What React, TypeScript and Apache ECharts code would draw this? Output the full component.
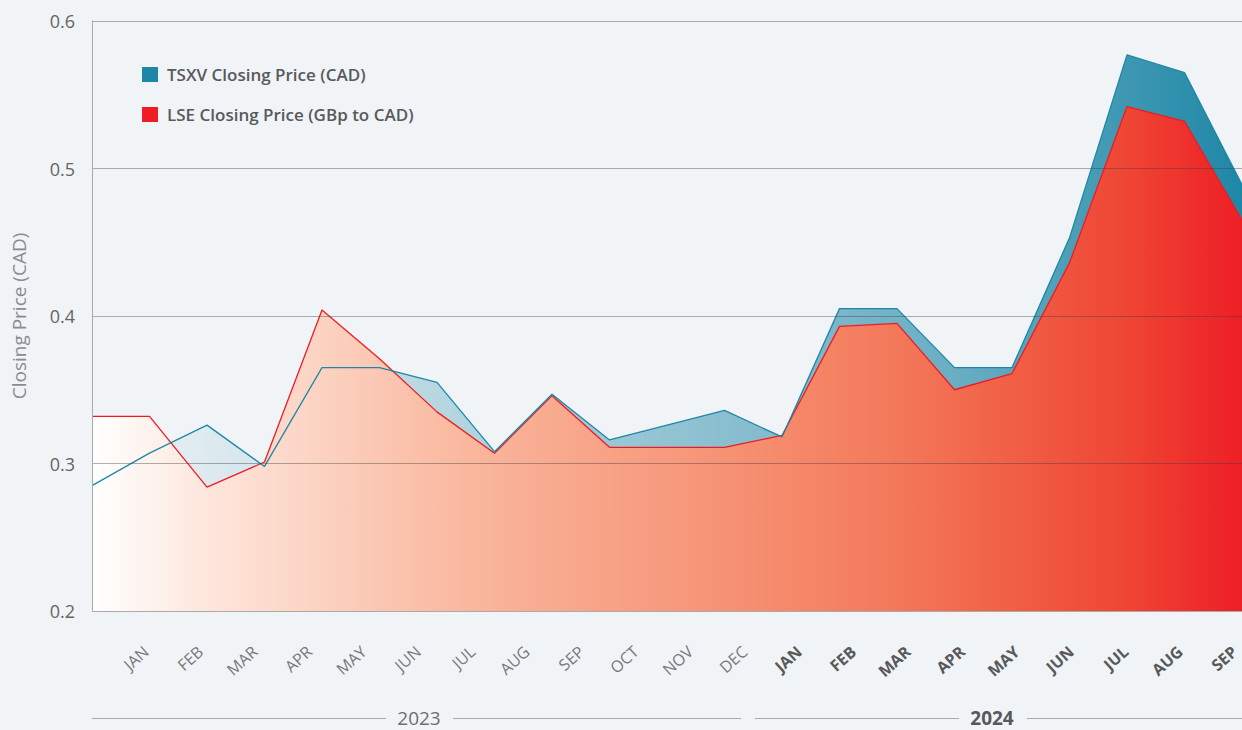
import React, { useEffect, useRef } from "react";
import * as echarts from "echarts";

const months2023 = ["JAN","FEB","MAR","APR","MAY","JUN","JUL","AUG","SEP","OCT","NOV","DEC"];
const months2024 = ["JAN","FEB","MAR","APR","MAY","JUN","JUL","AUG","SEP"];
const categories = [...months2023.map(m => "2023 " + m), ...months2024.map(m => "2024 " + m)];

const tsxvName = "TSXV Closing Price (CAD)";
const lseName = "LSE Closing Price (GBp to CAD)";

const tsxv = [0.285, 0.307, 0.326, 0.298, 0.365, 0.365, 0.355, 0.308, 0.347, 0.316, 0.326, 0.336, 0.318, 0.405, 0.405, 0.365, 0.365, 0.453, 0.577, 0.565, 0.489];
const lse = [0.332, 0.332, 0.284, 0.301, 0.404, 0.371, 0.335, 0.307, 0.346, 0.311, 0.311, 0.311, 0.319, 0.393, 0.395, 0.350, 0.361, 0.436, 0.542, 0.532, 0.465];

const yTicks = [0.2, 0.3, 0.4, 0.5, 0.6];
const years = ["2023", "2024"];

const FONT = "'Open Sans', 'Noto Sans', sans-serif";

export default function App() {
  const ref = useRef<HTMLDivElement>(null);
  useEffect(() => {
    if (!ref.current) return;
    const chart = echarts.init(ref.current, undefined, { renderer: "svg" });
    const teal = "#1e87a6";
    const red = "#ed1c24";
    const option: any = {
      animation: false,
      backgroundColor: "#f0f4f7",
      textStyle: { fontFamily: FONT },
      legend: {
        orient: "vertical",
        left: 142,
        top: 66,
        padding: 0,
        itemWidth: 16,
        itemHeight: 15,
        itemGap: 23,
        icon: "rect",
        selectedMode: false,
        textStyle: { fontSize: 17, fontWeight: 600, color: "#58595b", fontFamily: FONT, padding: [0, 0, 0, 4] },
        data: [
          { name: tsxvName, itemStyle: { color: teal, borderWidth: 0 } },
          { name: lseName, itemStyle: { color: "#ee1d25", borderWidth: 0 } },
        ],
      },
      grid: [
        { left: 92, right: 0, top: 21, bottom: 119, containLabel: false },
        { left: 146, right: 5, top: 21, bottom: 119, containLabel: false },
      ],
      xAxis: [
        {
          type: "category",
          gridIndex: 0,
          data: categories,
          boundaryGap: false,
          axisLine: { show: false },
          axisTick: { show: false },
          axisLabel: { show: false },
          splitLine: { show: false },
        },
        {
          type: "category",
          gridIndex: 1,
          data: categories,
          boundaryGap: false,
          axisLine: { show: false },
          axisTick: { show: false },
          splitLine: { show: false },
          axisLabel: {
            interval: 0,
            rotate: 42,
            margin: 38,
            formatter: (v: string) => {
              const [y, m] = v.split(" ");
              return y === "2024" ? `{b|${m}}` : `{a|${m}}`;
            },
            rich: {
              a: { fontSize: 16, color: "#77787b", fontFamily: FONT },
              b: { fontSize: 16, color: "#58595b", fontWeight: 700, fontFamily: FONT },
            },
          },
        },
      ],
      yAxis: [
        {
          type: "value",
          gridIndex: 0,
          min: 0.2,
          max: 0.6,
          interval: 0.1,
          z: 5,
          name: "Closing Price (CAD)",
          nameLocation: "middle",
          nameGap: 64,
          nameTextStyle: { fontSize: 19, color: "#8a8c8f", fontFamily: FONT },
          axisLine: { show: true, lineStyle: { color: "#a7a9ac", width: 1 } },
          axisTick: { show: false },
          axisLabel: {
            fontSize: 18,
            color: "#646567",
            margin: 17,
            fontFamily: FONT,
            formatter: (v: number) => (yTicks.some(t => Math.abs(t - v) < 1e-9) ? v.toFixed(1) : ""),
          },
          splitLine: { show: true, lineStyle: { color: "rgba(60,60,60,0.4)", width: 1 } },
        },
        {
          type: "value",
          gridIndex: 1,
          show: false,
          min: 0.2,
          max: 0.6,
        },
      ],
      series: [
        {
          name: tsxvName,
          type: "line",
          xAxisIndex: 0,
          yAxisIndex: 0,
          data: tsxv,
          color: teal,
          showSymbol: false,
          symbol: "none",
          z: 1,
          lineStyle: { width: 0, opacity: 0 },
          areaStyle: {
            opacity: 1,
            color: new echarts.graphic.LinearGradient(0, 0, 1, 0, [
              { offset: 0, color: "rgba(30,135,166,0)" },
              { offset: 0.3, color: "rgba(30,135,166,0.27)" },
              { offset: 0.5, color: "rgba(30,135,166,0.45)" },
              { offset: 0.75, color: "rgba(30,135,166,0.64)" },
              { offset: 0.9, color: "rgba(30,135,166,0.85)" },
              { offset: 1, color: "rgba(30,135,166,1)" },
            ]),
          },
        },
        {
          name: lseName,
          type: "line",
          xAxisIndex: 0,
          yAxisIndex: 0,
          data: lse,
          color: red,
          showSymbol: false,
          symbol: "none",
          z: 2,
          lineStyle: { width: 1.3, color: red },
          areaStyle: {
            opacity: 1,
            color: new echarts.graphic.LinearGradient(0, 0, 1, 0, [
              { offset: 0, color: "#ffffff" },
              { offset: 0.1, color: "#fde6dc" },
              { offset: 0.2, color: "#fcd2c1" },
              { offset: 0.3, color: "#fabca4" },
              { offset: 0.4, color: "#f8aa8f" },
              { offset: 0.5, color: "#f79a7e" },
              { offset: 0.6, color: "#f58a6b" },
              { offset: 0.7, color: "#f3785a" },
              { offset: 0.8, color: "#f15f45" },
              { offset: 0.9, color: "#ef4534" },
              { offset: 1, color: "#ed1f26" },
            ]),
          },
        },
        {
          name: tsxvName,
          type: "line",
          xAxisIndex: 0,
          yAxisIndex: 0,
          data: tsxv,
          color: teal,
          showSymbol: false,
          symbol: "none",
          z: 3,
          lineStyle: { width: 1.3, color: teal },
        },
      ],
      graphic: [
        { type: "line", shape: { x1: 92, y1: 718.5, x2: 386, y2: 718.5 }, style: { stroke: "#a7a9ac", lineWidth: 1 } },
        { type: "line", shape: { x1: 453, y1: 718.5, x2: 741, y2: 718.5 }, style: { stroke: "#a7a9ac", lineWidth: 1 } },
        { type: "line", shape: { x1: 755, y1: 718.5, x2: 959, y2: 718.5 }, style: { stroke: "#a7a9ac", lineWidth: 1 } },
        { type: "line", shape: { x1: 1027, y1: 718.5, x2: 1242, y2: 718.5 }, style: { stroke: "#a7a9ac", lineWidth: 1 } },
        {
          type: "text", x: 419, y: 718,
          style: { text: years[0], fontSize: 19, fill: "#6d6e71", fontFamily: FONT, textAlign: "center", textVerticalAlign: "middle" },
        },
        {
          type: "text", x: 992, y: 718,
          style: { text: years[1], fontSize: 19, fontWeight: 700, fill: "#58595b", fontFamily: FONT, textAlign: "center", textVerticalAlign: "middle" },
        },
      ],
    };
    chart.setOption(option);
    return () => chart.dispose();
  }, []);
  return <div ref={ref} style={{ position: "fixed", left: 0, top: 0, width: 1242, height: 730 }} />;
}
